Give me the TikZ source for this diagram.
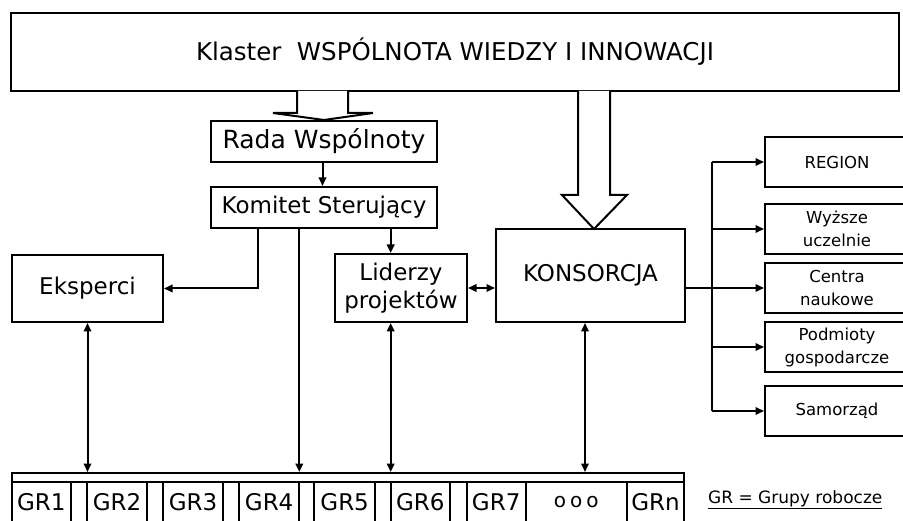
\documentclass[tikz,border=0pt]{standalone}
\usepackage{fontspec}
\setmainfont{DejaVu Sans}
\usetikzlibrary{arrows.meta}
\begin{document}
\begin{tikzpicture}[x=1pt,y=-1pt,
  box/.style={draw, line width=2pt, fill=white, inner sep=0pt, align=center},
  ln/.style={line width=2pt},
  tipk/.tip={Triangle[length=8.5pt,width=7.5pt]},
  arr/.style={ln, -tipk},
  darr/.style={ln, tipk-tipk},
  hollow/.style={line width=2pt, fill=white, line join=miter},
  fbig/.style={font=\fontsize{25}{28}\selectfont},
  fmid/.style={font=\fontsize{23}{28}\selectfont},
  fsm/.style={font=\fontsize{16.5}{23}\selectfont},
  cell/.style={box, minimum height=41pt, font=\fontsize{23}{28}\selectfont}]
\useasboundingbox (0,0) rectangle (903,521);
\clip (0,0) rectangle (903,521);

% top box
\node[box, minimum width=888pt, minimum height=78pt, font=\fontsize{24.5}{30}\selectfont] (top) at (455,52) {Klaster\ \ WSPÓLNOTA WIEDZY I INNOWACJI};

% main boxes
\node[box, fbig, minimum width=226pt, minimum height=41pt] (rada) at (324,141.5) {Rada Wspólnoty};
\node[box, fmid, minimum width=226pt, minimum height=41pt] (kom) at (324,207.5) {Komitet Sterujący};
\node[box, fmid, minimum width=151pt, minimum height=67pt] (eks) at (87.5,288.5) {Eksperci};
\node[box, fmid, minimum width=132pt, minimum height=68pt] (lid) at (401,288) {Liderzy\\projektów};
\node[box, fmid, minimum width=189pt, minimum height=93pt] (kons) at (590.5,275.5) {KONSORCJA};

% right boxes
\node[box, fsm, minimum width=144pt, minimum height=50pt, anchor=west] (reg) at (764,162) {REGION};
\node[box, fsm, minimum width=144pt, minimum height=50pt, anchor=west] (wyz) at (764,229) {Wyższe\\uczelnie};
\node[box, fsm, minimum width=144pt, minimum height=50pt, anchor=west] (cen) at (764,288) {Centra\\naukowe};
\node[box, fsm, minimum width=144pt, minimum height=50pt, anchor=west] (pod) at (764,347) {Podmioty\\gospodarcze};
\node[box, fsm, minimum width=144pt, minimum height=50pt, anchor=west] (sam) at (764,411) {Samorząd};

% hollow arrows
\filldraw[hollow] (297,91) -- (297,113) -- (273,113) -- (rada.north) -- (373,113) -- (348,113) -- (348,91);
\filldraw[hollow] (578,91) -- (578,195) -- (562,195) -- (594,229) -- (627,195) -- (610,195) -- (610,91);

% bottom bar
\node[draw, line width=2pt, inner sep=0pt, minimum width=672.3pt, minimum height=50pt] (bar) at (348.15,498) {};
\coordinate (sl) at (12,482);
\coordinate (sr) at (684.3,482);
\draw[ln] (sl) -- (sr);
\node[cell, minimum width=58.7pt] (g1) at (41.35,502.5) {GR1};
\node[cell, minimum width=59.4pt] (g2) at (117,502.5) {GR2};
\node[cell, minimum width=59.4pt] (g3) at (193,502.5) {GR3};
\node[cell, minimum width=60.3pt] (g4) at (269.15,502.5) {GR4};
\node[cell, minimum width=60.7pt] (g5) at (344.65,502.5) {GR5};
\node[cell, minimum width=59.3pt] (g6) at (420.35,502.5) {GR6};
\node[cell, minimum width=59pt] (g7) at (496.2,502.5) {GR7};
\node[cell, minimum width=101pt, font=\fontsize{20}{22}\selectfont] (gd) at (576.2,502.5) {o\hspace{4pt}o\hspace{4pt}o};
\node[cell, minimum width=57.6pt] (gn) at (655.5,502.5) {GRn};
\node[font=\fontsize{17}{20}\selectfont, anchor=west, inner sep=0pt] (leg) at (708,500) {\underline{GR = Grupy robocze}};

% connectors
\coordinate (x1) at (258,0);
\coordinate (x4) at (299.3,0);
\coordinate (x6) at (390.7,0);
\coordinate (x8) at (585,0);
\coordinate (br) at (712,0);
\draw[arr] (rada.south -| 322.5,0) -- (kom.north -| 322.5,0);
\draw[arr] (kom.south -| x1) |- (eks.east);
\draw[arr] (kom.south -| x4) -- (bar.north -| x4);
\draw[arr] (kom.south -| x6) -- (lid.north -| x6);
\draw[darr] (lid.east) -- (kons.west |- lid.east);
\draw[darr] (eks.south) -- (bar.north -| eks.south);
\draw[darr] (lid.south -| x6) -- (bar.north -| x6);
\draw[darr] (kons.south -| x8) -- (bar.north -| x8);
\draw[ln] (kons.east |- cen.west) -- (br |- cen.west);
\draw[ln] (br |- reg.west) -- (br |- sam.west);
\draw[arr] (br |- reg.west) -- (reg.west);
\draw[arr] (br |- wyz.west) -- (wyz.west);
\draw[arr] (br |- cen.west) -- (cen.west);
\draw[arr] (br |- pod.west) -- (pod.west);
\draw[arr] (br |- sam.west) -- (sam.west);
\end{tikzpicture}
\end{document}
